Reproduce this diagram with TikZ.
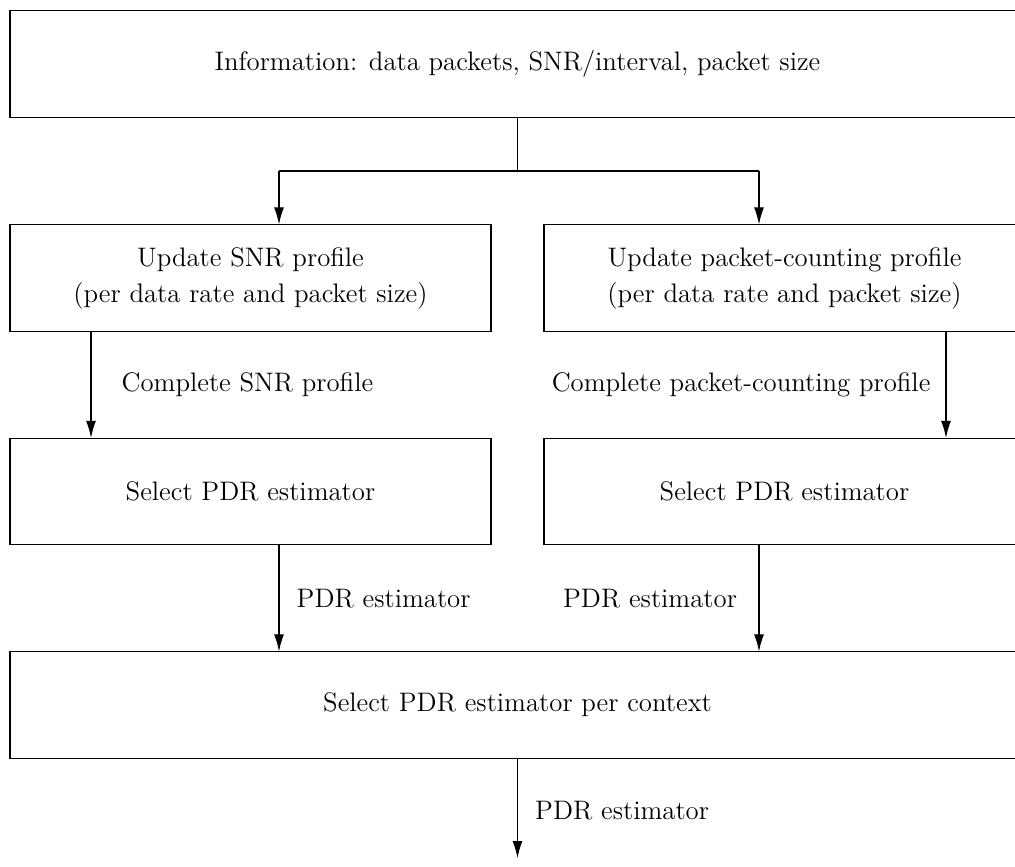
\documentclass[tikz,border=0pt]{standalone}
\usetikzlibrary{arrows.meta}
\begin{document}
\begin{tikzpicture}[x=0.4651pt,y=-0.4651pt,
  box/.style={draw,line width=0.5pt,minimum height=49.4pt,align=center,inner sep=0pt,font=\fontsize{12.45}{16.7}\selectfont},
  wide/.style={box,minimum width=472.1pt},
  half/.style={box,minimum width=223.7pt},
  arr/.style={line width=0.5pt,-{Latex[length=7.9pt,width=4.6pt]}},
  ln/.style={line width=0.5pt},
  lbl/.style={inner sep=0pt,font=\fontsize{12.45}{14}\selectfont}]
\useasboundingbox (0,0) rectangle (1015,867);
\node[wide] (top) at (517.5,64) {Information: data packets, SNR/interval, packet size};
\node[half] (upl) at (250.5,278) {Update SNR profile\\(per data rate and packet size)};
\node[half] (upr) at (784.5,278) {Update packet-counting profile\\(per data rate and packet size)};
\node[half] (sel) at (250.5,491.5) {Select PDR estimator};
\node[half] (ser) at (784.5,491.5) {Select PDR estimator};
\node[wide] (ctx) at (517.5,705) {Select PDR estimator per context};
\coordinate (j) at (517.5,171);
\coordinate (aL) at (279,171);
\coordinate (aR) at (759,171);
\coordinate (cL) at (91,0);
\coordinate (cR) at (946,0);
\coordinate (out) at (517.5,858);
\draw[ln] (top.south) -- (j);
\draw[ln] (aL) -- (aR);
\draw[arr] (aL) -- (aL |- upl.north);
\draw[arr] (aR) -- (aR |- upr.north);
\draw[arr] (upl.south -| cL) -- node[lbl,anchor=west,xshift=14pt]{Complete SNR profile} (sel.north -| cL);
\draw[arr] (upr.south -| cR) -- node[lbl,anchor=east,xshift=-7pt]{Complete packet-counting profile} (ser.north -| cR);
\draw[arr] (sel.south -| aL) -- node[lbl,anchor=west,xshift=8pt]{PDR estimator} (ctx.north -| aL);
\draw[arr] (ser.south -| aR) -- node[lbl,anchor=east,xshift=-10pt]{PDR estimator} (ctx.north -| aR);
\draw[arr] (ctx.south) -- node[lbl,anchor=west,xshift=8pt,yshift=-1pt]{PDR estimator} (out);
\end{tikzpicture}
\end{document}
